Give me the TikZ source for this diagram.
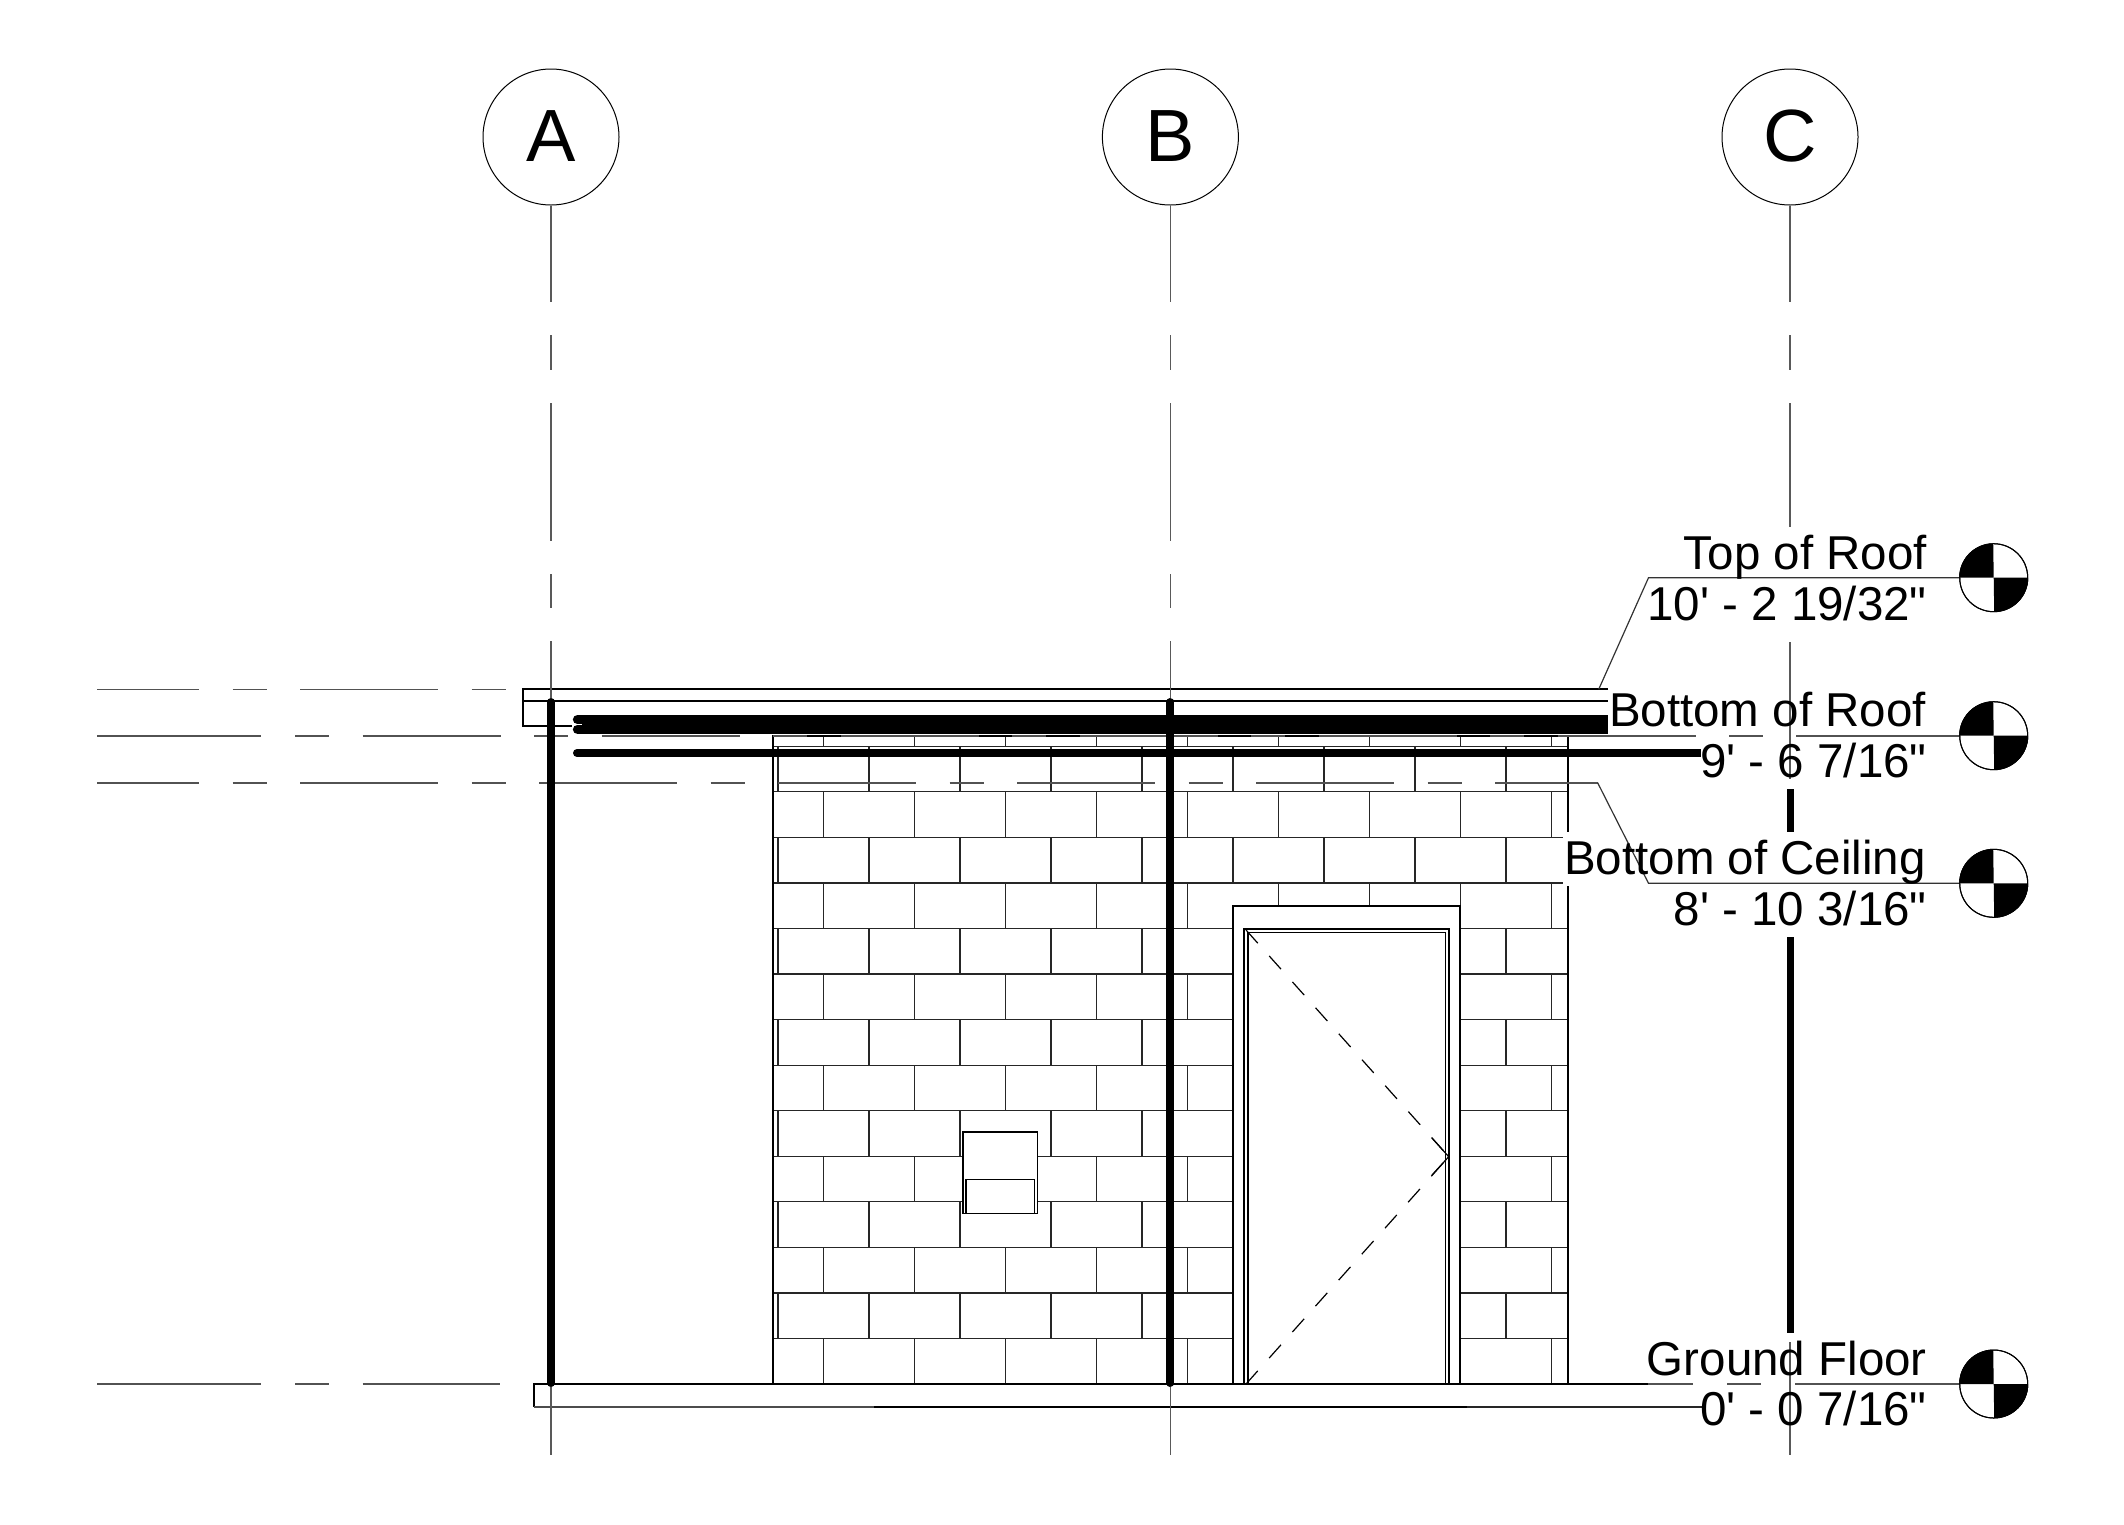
\documentclass[tikz,border=0pt]{standalone}
\usepackage{fontspec}
\newfontfamily\lab[Ligatures=NoCommon]{Liberation Sans}
\tikzset{
  gridthin/.style={line width=1.3pt,draw=black!65},
  gridthick/.style={line width=8pt,draw=black,line cap=round},
  levdash/.style={line width=1.6pt,draw=black!68},
  dashA/.style={levdash,dash pattern=on 138pt off 33.5pt on 34pt off 33.5pt,dash phase=36pt},
  dashB/.style={levdash,dash pattern=on 34pt off 33.5pt on 138pt off 33.5pt},
  solidline/.style={line width=2.2pt,draw=black},
  boxline/.style={line width=1.6pt,draw=black,fill=white},
  brick/.style={line width=1.2pt,draw=black!85},
  leaderline/.style={line width=1.2pt,draw=black!80},
  bubble/.style={circle,draw=black,line width=1pt,minimum size=136pt,inner sep=0pt,fill=white},
  levelmark/.style={circle,draw=black,line width=1pt,minimum size=68pt,inner sep=0pt,fill=white},
  gridlabel/.style={font=\lab\fontsize{74}{74}\selectfont,anchor=base,inner sep=0pt},
  levellabel/.style={font=\lab\fontsize{47.5}{47.5}\selectfont,anchor=base east,inner sep=0pt},
  swing/.style={line width=1.2pt,draw=black,dash pattern=on 17.7pt off 17.1pt},
}
\begin{document}
\begin{tikzpicture}[x=1pt,y=-1pt]
\useasboundingbox (0,0) rectangle (2124,1524);

% brick wall
\begin{scope}
\clip (773,736) rectangle (1568,1384);
\foreach \i in {0,...,14}{
  \pgfmathsetmacro\yb{1384-45.55*\i}
  \pgfmathsetmacro\yt{max(1384-45.55*(\i+1),736)}
  \pgfmathsetmacro\xs{mod(\i,2)==0 ? 823.5 : 778}
  \draw[brick] (773,\yb) -- (1568,\yb);
  \foreach \k in {0,...,8}{
    \draw[brick] ({\xs+91*\k},\yb) -- ({\xs+91*\k},\yt);
  }
}
\end{scope}
\draw[solidline] (773,1384) -- (773,736) -- (1568,736) -- (1568,1384);

% door
\draw[solidline,fill=white] (1233,1384) -- (1233,906) -- (1460,906) -- (1460,1384);
\draw[line width=1.8pt] (1244.3,1384) -- (1244.3,929) -- (1449.3,929) -- (1449.3,1384);
\draw[line width=1.6pt] (1248,1384) -- (1248,932.3) -- (1445.3,932.3) -- (1445.3,1384);
\coordinate (dtop) at (1246,930);
\coordinate (dapex) at (1448.7,1156.7);
\coordinate (dbot) at (1246,1384);
\draw[swing] (dtop) -- (dapex);
\draw[swing] (dbot) -- (dapex);
\draw[line width=1.2pt] (1432,1138) -- (dapex) -- (1432,1175);

% wall box
\draw[boxline] (962.7,1131.7) rectangle (1037.3,1213.3);
\draw[boxline] (965.7,1179.3) rectangle (1034.3,1213.3);

% roof
\draw[solidline] (1608,689.3) -- (522.8,689.3) -- (522.8,726) -- (572,726);
\draw[solidline] (522.8,701) -- (1608,701);
\fill[black] (582,715) rectangle (1608,734);
\draw[line width=9.5pt,line cap=round] (577.6,719.7) -- (590,719.7);
\draw[line width=9.5pt,line cap=round] (577.6,729.3) -- (590,729.3);
\draw[line width=8pt,line cap=round] (577,753) -- (1705,753);

% floor slab
\draw[solidline] (1648,1384) -- (534,1384) -- (534,1406.7);
\draw[line width=2pt,draw=black!70] (534,1406.7) -- (874,1406.7);
\draw[solidline] (874,1406.7) -- (1467,1406.7);
\draw[line width=2pt,draw=black!85] (1467,1406.7) -- (1702,1406.7);

% masks behind the level texts
\fill[white] (1563,832) rectangle (1930,886);
\fill[white] (1701,740) rectangle (1930,782);

% level marks
\node[levelmark] (lv1) at (1993.7,577.7) {};
\node[levelmark] (lv2) at (1993.7,735.7) {};
\node[levelmark] (lv3) at (1993.7,883.3) {};
\node[levelmark] (lv4) at (1993.7,1384) {};
\foreach \n in {lv1,lv2,lv3,lv4}{
  \fill[black] (\n.center) -- (\n.west) arc[start angle=180,end angle=90,radius=34pt] -- cycle;
  \fill[black] (\n.center) -- (\n.east) arc[start angle=0,end angle=-90,radius=34pt] -- cycle;
  \draw[line width=1pt] (\n.center) circle[radius=34pt];
}

% level lines
\coordinate (l1a) at (97,689.3);
\coordinate (l1b) at (510,689.3);
\draw[dashA] (l1a) -- (l1b);
\coordinate (l1c) at (1598.7,689.3);
\coordinate (l1d) at (1648.5,577.7);
\draw[leaderline] (l1c) -- (l1d) -- (lv1.west);

\coordinate (l2a) at (97,735.7);
\coordinate (l2b) at (261,735.7);
\coordinate (l2c) at (295,735.7);
\coordinate (l2d) at (1763,735.7);
\coordinate (l2e) at (1796,735.7);
\draw[levdash] (l2a) -- (l2b);
\draw[dashB] (l2c) -- (l2d);
\draw[levdash] (l2e) -- (lv2.west);

\coordinate (l3a) at (97,782.7);
\coordinate (l3b) at (1597.6,782.7);
\coordinate (l3c) at (1648.5,883.3);
\draw[dashA] (l3a) -- (l3b);
\draw[leaderline] (l3b) -- (l3c) -- (lv3.west);

\coordinate (l4a) at (97,1384);
\coordinate (l4b) at (261,1384);
\coordinate (l4c) at (295,1384);
\coordinate (l4d) at (500,1384);
\coordinate (l4e) at (1648,1384);
\coordinate (l4f) at (1693,1384);
\coordinate (l4g) at (1727,1384);
\coordinate (l4h) at (1761,1384);
\coordinate (l4i) at (1795,1384);
\draw[levdash] (l4a) -- (l4b);
\draw[dashB] (l4c) -- (l4d);
\draw[levdash] (l4e) -- (l4f);
\draw[levdash] (l4g) -- (l4h);
\draw[levdash] (l4i) -- (lv4.west);

% grid bubbles
\node[bubble] (ga) at (551,137) {};
\node[bubble] (gb) at (1170.4,137) {};
\node[bubble] (gc) at (1790,137) {};
\node[gridlabel] (ta) at (551,161.7) {A};
\node[gridlabel] (tb) at (1170.4,161.7) {B};
\node[gridlabel] (tc) at (1790,161.7) {C};

% grid lines
\foreach \g/\x in {ga/551,gb/1170.4,gc/1790}{
  \draw[gridthin] (\g.south) -- (\x,302);
  \draw[gridthin] (\x,335) -- (\x,370);
}
\foreach \x in {551,1170.4}{
  \draw[gridthin] (\x,403) -- (\x,541);
  \draw[gridthin] (\x,574) -- (\x,608);
  \draw[gridthin] (\x,641) -- (\x,698);
  \draw[gridthin] (\x,1387) -- (\x,1455);
  \draw[gridthick] (\x,702) -- (\x,1383);
}
\draw[gridthin] (1790,403) -- (1790,527);
\draw[gridthin] (1790,642) -- (1790,779);
\draw[gridthin] (1790,1342) -- (1790,1455);
\draw[line width=7pt] (1790,789) -- (1790,832);
\draw[line width=7pt] (1790,937) -- (1790,1333);

% level texts
\node[levellabel] (n1) at (1927,569.3) {Top of Roof};
\node[levellabel] (v1) at (1927,620) {10' - 2 19/32"};
\node[levellabel] (n2) at (1926,726.7) {Bottom of Roof};
\node[levellabel] (v2) at (1927,777.3) {9' - 6 7/16"};
\node[levellabel] (n3) at (1926,874) {Bottom of Ceiling};
\node[levellabel] (v3) at (1927,925) {8' - 10 3/16"};
\node[levellabel] (n4) at (1927,1375) {Ground Floor};
\node[levellabel] (v4) at (1927,1425) {0' - 0 7/16"};
\end{tikzpicture}
\end{document}
